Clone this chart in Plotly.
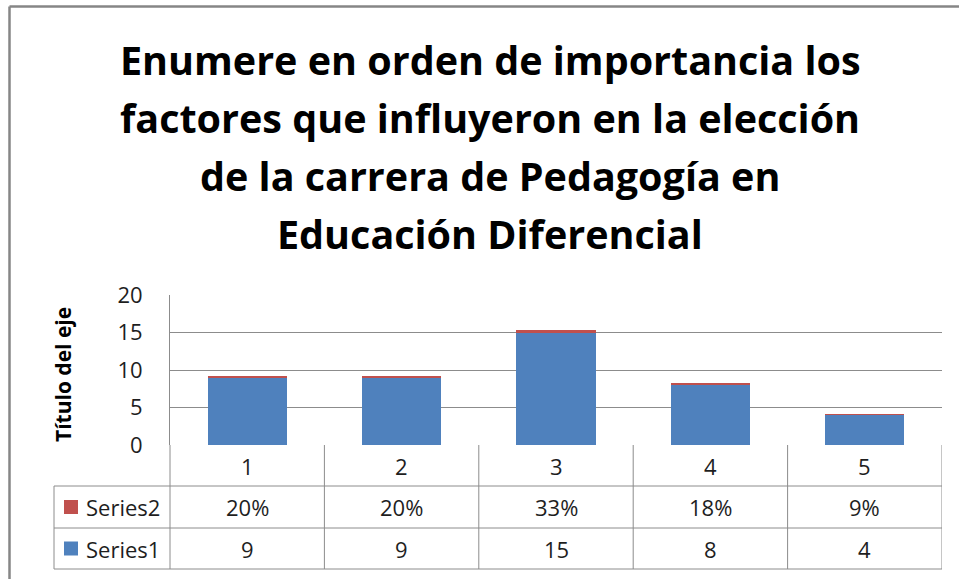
import plotly.graph_objects as go

categories = [1, 2, 3, 4, 5]
series1 = [9, 9, 15, 8, 4]
series2 = [0.20, 0.20, 0.33, 0.18, 0.09]
series1_labels = ["9", "9", "15", "8", "4"]
series2_labels = ["20%", "20%", "33%", "18%", "9%"]
series_names = ["Series1", "Series2"]
title_lines = [
    "Enumere en orden de importancia los",
    "factores que influyeron en la elección",
    "de la carrera de Pedagogía en",
    "Educación Diferencial",
]
y_title = "Título del eje"
y_ticks = [0, 5, 10, 15, 20]

W, H = 959, 579
L, R, T, B = 170, 17, 295, 134
PW = W - L - R
PH = H - T - B


def px(x):
    return (x - L) / PW


def py(y):
    return (H - B - y) / PH


BLUE = "#4F81BD"
RED = "#C0504D"
GRID = "#8C8C8C"
TXT = "#1E1E1E"
FONT = "Open Sans"

fig = go.Figure()
fig.add_trace(go.Bar(x=categories, y=series1, name=series_names[0],
                     marker=dict(color=BLUE, line=dict(width=0)), width=0.512))
fig.add_trace(go.Bar(x=categories, y=series2, name=series_names[1],
                     marker=dict(color=RED, line=dict(width=0)), width=0.512))

shapes = []
line = dict(color=GRID, width=1)
# table horizontal lines
for yy in [486, 528, 569]:
    shapes.append(dict(type="line", xref="paper", yref="paper",
                       x0=px(54), x1=1, y0=py(yy), y1=py(yy), line=line))
# left column border and axis-column border
shapes.append(dict(type="line", xref="paper", yref="paper",
                   x0=px(54), x1=px(54), y0=py(486), y1=py(569), line=line))
shapes.append(dict(type="line", xref="paper", yref="paper",
                   x0=0, x1=0, y0=0, y1=py(569), line=line))
# category boundaries
for c in categories:
    xb = c + 0.5
    shapes.append(dict(type="line", xref="x", yref="paper",
                       x0=xb, x1=xb, y0=0, y1=py(569), line=line))
# legend keys
for name, color, row in [(series_names[1], RED, 507), (series_names[0], BLUE, 548.5)]:
    shapes.append(dict(type="rect", xref="paper", yref="paper",
                       x0=px(64), x1=px(78), y0=py(row + 7), y1=py(row - 7),
                       fillcolor=color, line=dict(width=0)))
# outer chart border (left and top edges)
border = dict(color="#868686", width=2.5)
shapes.append(dict(type="line", xref="paper", yref="paper",
                   x0=px(9.5), x1=px(970), y0=py(6.5), y1=py(6.5), line=border))
shapes.append(dict(type="line", xref="paper", yref="paper",
                   x0=px(9.5), x1=px(9.5), y0=py(6.5), y1=py(600), line=border))

annotations = []
title_centers = [60, 118, 176, 234]
for txt, yc in zip(title_lines, title_centers):
    annotations.append(dict(text="<b>" + txt + "</b>", xref="paper", yref="paper",
                            x=px(490), y=py(yc), xanchor="center", yanchor="middle",
                            showarrow=False, font=dict(family=FONT, size=39.5, color="#000")))
annotations.append(dict(text="<b>" + y_title + "</b>", xref="paper", yref="paper",
                        x=px(63), y=py(375), textangle=-90, xanchor="center", yanchor="middle",
                        showarrow=False, font=dict(family=FONT, size=21, color="#000")))
tfont = dict(family=FONT, size=22, color=TXT)
for c, s1, s2 in zip(categories, series1_labels, series2_labels):
    annotations.append(dict(text=str(c), xref="x", yref="paper", x=c, y=py(465.5),
                            showarrow=False, xanchor="center", yanchor="middle", font=tfont))
    annotations.append(dict(text=s2, xref="x", yref="paper", x=c, y=py(507),
                            showarrow=False, xanchor="center", yanchor="middle", font=tfont))
    annotations.append(dict(text=s1, xref="x", yref="paper", x=c, y=py(548.5),
                            showarrow=False, xanchor="center", yanchor="middle", font=tfont))
for name, row in [(series_names[1], 507), (series_names[0], 548.5)]:
    annotations.append(dict(text=name, xref="paper", yref="paper", x=px(84), y=py(row),
                            showarrow=False, xanchor="left", yanchor="middle", font=tfont))

fig.update_layout(
    width=W, height=H,
    margin=dict(l=L, r=R, t=T, b=B, pad=0),
    barmode="stack",
    showlegend=False,
    paper_bgcolor="white", plot_bgcolor="white",
    shapes=shapes, annotations=annotations,
    xaxis=dict(range=[0.5, 5.5], showticklabels=False, showgrid=False, zeroline=False,
               showline=False, ticks=""),
    yaxis=dict(range=[0, 20], tickvals=y_ticks, showgrid=True, gridcolor=GRID, gridwidth=1,
               zeroline=False, showline=True, linecolor=GRID, linewidth=1,
               ticks="", ticklabelstandoff=22, tickfont=dict(family=FONT, size=22, color=TXT)),
)

fig.write_html("out.html", config={"displayModeBar": False},
               post_script="document.body.style.margin='0';document.body.style.overflow='hidden';")
